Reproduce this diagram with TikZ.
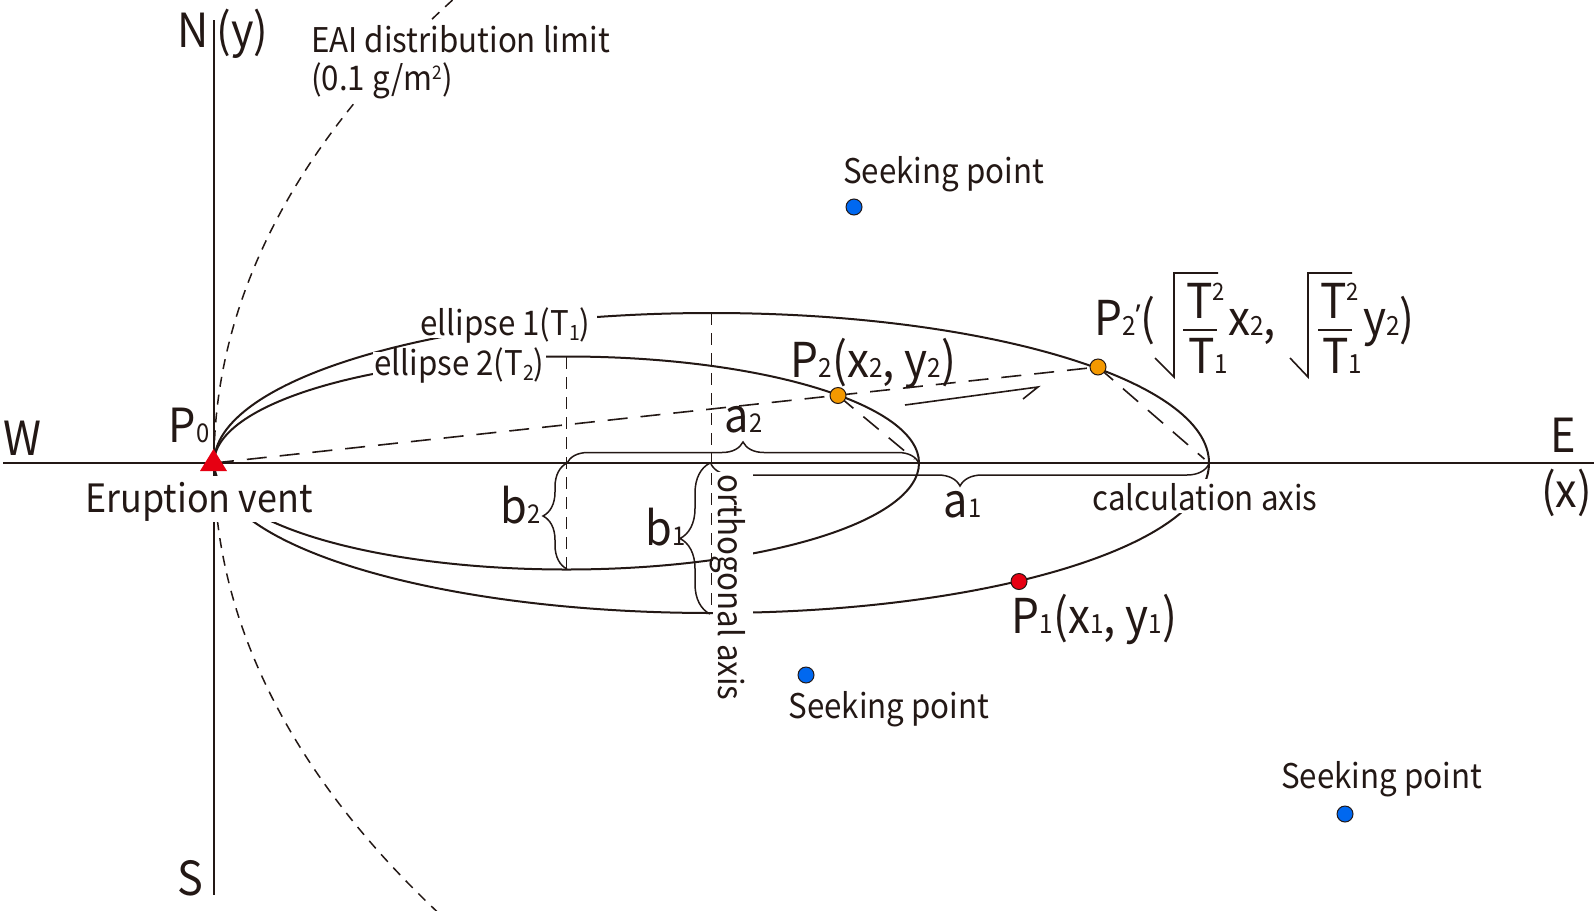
\documentclass[tikz,border=0pt]{standalone}
\usepackage{fontspec}
\usepackage{graphicx}
\setmainfont{Noto Sans CJK JP}[FakeStretch=0.92]
\newfontfamily\primefont{Noto Sans}
\usetikzlibrary{decorations.pathreplacing}
\definecolor{ink}{HTML}{231815}
\definecolor{ventred}{HTML}{E60012}
\definecolor{dotblue}{HTML}{0068F0}
\definecolor{dotorange}{HTML}{F39800}
\definecolor{dotred}{HTML}{E60012}
\newcommand\lo[1]{\scalebox{0.55}{#1}}
\newcommand\sbs[1]{\raisebox{-0.17em}{\scalebox{0.62}{#1}}}
\newcommand\hi[1]{\raisebox{0.36em}{\scalebox{0.5}{#1}}}
\newcommand\primemark{\raisebox{0.2em}{\scalebox{0.6}{\primefont ’}}}
\begin{document}
\begin{tikzpicture}[x=1pt,y=-1pt,
  big/.style={font=\fontsize{47}{50}\selectfont, inner sep=0pt, anchor=base, text=ink},
  plab/.style={font=\fontsize{48}{52}\selectfont, inner sep=0pt, anchor=base, text=ink},
  small/.style={font=\fontsize{34}{40}\selectfont, inner sep=0pt, anchor=base, text=ink},
  vent label/.style={font=\fontsize{39}{44}\selectfont, inner sep=0pt, anchor=base, text=ink},
  mask/.style={fill=white},
  axisline/.style={draw=ink, line width=2pt},
  curve/.style={draw=ink, line width=2pt},
  thinline/.style={draw=ink, line width=1.6pt},
  dashline/.style={draw=ink, line width=1.6pt, dash pattern=on 20pt off 13pt},
  centerdash/.style={draw=ink, line width=1.5pt, dash pattern=on 12pt off 8pt},
  eaidash/.style={draw=ink, line width=1.5pt, dash pattern=on 10pt off 8pt},
  bracestyle/.style={draw=ink, line width=1.5pt, decorate, decoration={brace, amplitude=#1}},
  dotstyle/.style={circle, draw=ink, line width=1pt, minimum size=16pt, inner sep=0pt, fill=#1}]
\useasboundingbox (0,0) rectangle (1594,910);
\fill[white] (0,0) rectangle (1594,910);

% key points
\coordinate (vent) at (214,463);
\coordinate (ntop) at (214,20);
\coordinate (sbot) at (214,895);
\coordinate (wend) at (3,463);
\coordinate (eend) at (1594,463);
\coordinate (c1) at (711.5,463);
\coordinate (c2) at (566.5,463);
\coordinate (r1) at (1209,463);
\coordinate (r2) at (919,463);
\coordinate (t1) at (711.5,313);
\coordinate (bt1) at (711.5,613);
\coordinate (t2) at (566.5,357);
\coordinate (bt2) at (566.5,570);
\coordinate (p2c) at (838,395.5);
\coordinate (p2pc) at (1098,367);
\coordinate (p1c) at (1019,581.5);

% EAI distribution limit
\begin{scope}
\clip (0,0) rectangle (1594,910);
\draw[eaidash] (2251,463) ellipse [x radius=2037pt, y radius=985pt];
\end{scope}

% axes
\draw[axisline] (ntop) -- (sbot);
\draw[axisline] (wend) -- (eend);

% ellipses
\draw[curve] (c1) ellipse [x radius=497.5pt, y radius=150pt];
\draw[curve] (c2) ellipse [x radius=352.5pt, y radius=106.5pt];

% centre lines
\draw[centerdash] (t2) -- (bt2);
\draw[centerdash] (t1) -- (bt1);

% construction lines
\draw[dashline] (vent) -- (p2pc);
\draw[dashline, shorten >=6pt] (p2c) -- (r2);
\draw[dashline, shorten >=6pt] (p2pc) -- (r1);

% braces
\draw[bracestyle=21pt] (567,463) -- (919,463);
\draw[bracestyle=22pt] (1209,464) -- (711,464);
\draw[bracestyle=24pt] (567,569) -- (567,463);
\draw[bracestyle=30pt] (710,614) -- (710,463);

% harpoon
\coordinate (h0) at (905,405);
\coordinate (h1) at (1038,387);
\coordinate (h2) at (1023,399);
\draw[thinline] (h0) -- (h1) -- (h2);

% radicals of P2'
\draw[thinline] (1155,358) -- (1174,377) -- (1174,273) -- (1218,273);
\draw[thinline] (1183,330) -- (1217,330);
\draw[thinline] (1290,358) -- (1308,377) -- (1308,273) -- (1352,273);
\draw[thinline] (1318,330) -- (1352,330);

% labels
\node[big] (N) at (193.5,47) {N};
\node[big] (ylab) at (242.5,47) {(y)};
\node[big] (W) at (22.5,455) {W};
\node[big] (E) at (1563.5,452) {E};
\node[big] (xlab) at (1566.5,507) {(x)};
\node[big] (S) at (190,895) {S};
\node[big] (P0) at (189,442) {P\lo{0}};

\node[small, mask, anchor=base west, text height=30pt, text depth=10pt, inner xsep=4pt, inner ysep=2pt] (eai1) at (307,52) {EAI distribution limit};
\node[small, mask, anchor=base west, text height=26pt, text depth=10pt, inner xsep=4pt, inner ysep=2pt] (eai2) at (307,90) {(0.1 g/m\raisebox{0.3em}{\scalebox{0.55}{2}})};

\node[vent label, mask, text height=35pt, text depth=9pt, inner xsep=5pt, inner ysep=1pt] (ventlab) at (199,512) {Eruption vent};

\node[small, mask, text height=24pt, text depth=3pt, inner xsep=6pt, inner ysep=0pt] (el1) at (505.5,335) {ellipse 1(T\sbs{1})};
\node[small, mask, text height=23pt, text depth=1pt, inner xsep=1pt, inner ysep=0pt] (el2) at (459.5,375) {ellipse 2(T\sbs{2})};

\node[small, mask, text height=31pt, text depth=3pt, inner xsep=4pt, inner ysep=0pt] (calc) at (1205,510) {calculation axis};
\node[small, mask, rotate=-90, text height=33pt, text depth=3pt, inner xsep=3pt, inner ysep=2pt] (orth) at (718,587.5) {orthogonal axis};

\node[small] (seek1) at (943.5,183) {Seeking point};
\node[small] (seek2) at (889,718) {Seeking point};
\node[small] (seek3) at (1381.5,788) {Seeking point};

\node[big] (b2) at (520.5,523) {b\lo{2}};
\node[big] (b1) at (665.5,545) {b\lo{1}};
\node[big] (a2) at (743.5,432) {a\lo{2}};
\node[big] (a1) at (962.5,517) {a\lo{1}};

\node[plab] (P2lab) at (873.5,377) {P\lo{2}(x\lo{2}, y\lo{2})};
\node[plab] (P1lab) at (1094.5,633) {P\lo{1}(x\lo{1}, y\lo{1})};

\node[plab, anchor=base west] (p2pa) at (1094,335) {P\lo{2}\primemark(};
\node[plab, anchor=base west] (num1) at (1186,318) {T\hi{2}};
\node[plab, anchor=base west] (den1) at (1188,373) {T\lo{1}};
\node[plab, anchor=base west] (xpart) at (1228,335) {x\lo{2},};
\node[plab, anchor=base west] (num2) at (1320,318) {T\hi{2}};
\node[plab, anchor=base west] (den2) at (1322,373) {T\lo{1}};
\node[plab, anchor=base west] (ypart) at (1363,335) {y\lo{2})};

% vent marker
\fill[ventred] (200,471) -- (227,471) -- (213.5,449) -- cycle;

% points
\node[dotstyle=dotorange] (P2) at (p2c) {};
\node[dotstyle=dotorange] (P2p) at (p2pc) {};
\node[dotstyle=dotred] (P1) at (p1c) {};
\node[dotstyle=dotblue] (s1) at (854,207) {};
\node[dotstyle=dotblue] (s2) at (806,675) {};
\node[dotstyle=dotblue] (s3) at (1345,814) {};
\end{tikzpicture}
\end{document}
